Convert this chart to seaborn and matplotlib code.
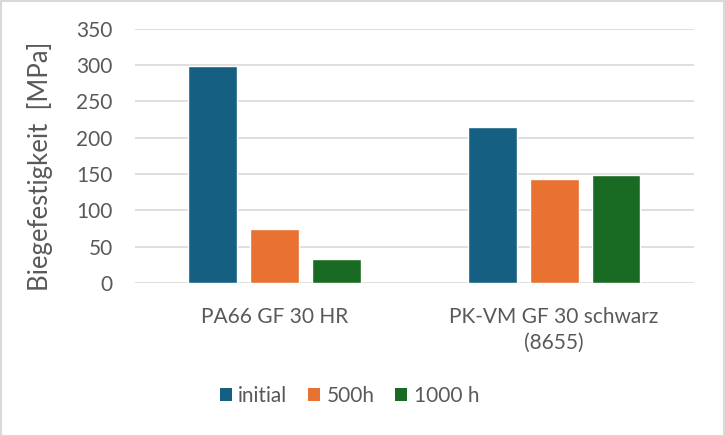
import matplotlib
matplotlib.use("Agg")
import matplotlib.pyplot as plt
import seaborn as sns
import pandas as pd
from matplotlib.patches import Patch, Rectangle

categories = ["PA66 GF 30 HR", "PK-VM GF 30 schwarz\n(8655)"]
series = ["initial", "500h", "1000 h"]
initial = [299, 215]
h500 = [74, 143]
h1000 = [33, 148]
colors = ["#156082", "#E97132", "#196B24"]
yticks = [0, 50, 100, 150, 200, 250, 300, 350]

rows = []
for s, vals in zip(series, [initial, h500, h1000]):
    for c, v in zip(categories, vals):
        rows.append({"cat": c, "series": s, "val": v})
df = pd.DataFrame(rows)

sns.set_theme(style="white")
plt.rcParams["font.family"] = ["Lato", "DejaVu Sans"]
txt = "#595959"
fs = 15

fig = plt.figure(figsize=(7.25, 4.36), dpi=100)
ax = fig.add_axes([0.186, 0.351, 0.771, 0.583])
sns.barplot(data=df, x="cat", y="val", hue="series", order=categories,
            hue_order=series, palette=colors, width=0.664, gap=0.21,
            saturation=1, ax=ax, legend=False)
ax.set_ylim(0, 350)
ax.set_yticks(yticks)
ax.set_yticklabels([str(t) for t in yticks], fontsize=fs, color=txt)
ax.set_xticks(range(len(categories)))
ax.set_xticklabels(categories, fontsize=fs, color=txt, linespacing=1.4)
ax.tick_params(axis="x", length=0, pad=17)
ax.tick_params(axis="y", length=0, pad=16)
ax.set_xlabel("")
ax.set_ylabel("Biegefestigkeit  [MPa]", fontsize=18.5, color=txt, labelpad=0)
ax.yaxis.set_label_coords(-0.147, 0.46)
ax.yaxis.grid(True, color="#D9D9D9", linewidth=1.2)
ax.set_axisbelow(True)
for sp in ax.spines.values():
    sp.set_visible(False)

handles = [Patch(facecolor=c, edgecolor="none") for c in colors]
fig.legend(handles, series, loc="center", bbox_to_anchor=(0.482, 0.092),
           ncol=3, frameon=False, fontsize=fs, labelcolor=txt,
           handlelength=0.58, handleheight=0.58, handletextpad=0.3, columnspacing=1.0)

fig.patches.append(Rectangle((0.001, 0.001), 0.997, 0.997, transform=fig.transFigure,
                             fill=False, edgecolor="#D9D9D9", linewidth=1.5))
fig.savefig("out.png", dpi=100)
